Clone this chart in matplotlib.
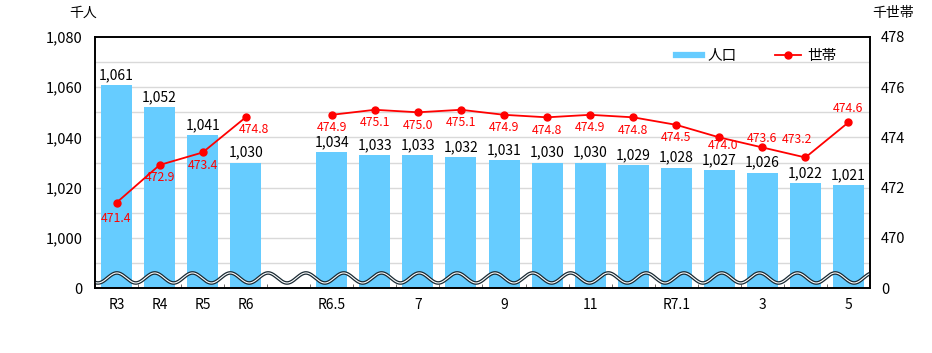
import numpy as np
import matplotlib
matplotlib.use("Agg")
import matplotlib.pyplot as plt
from matplotlib.lines import Line2D

plt.rcParams['font.family'] = ['Noto Sans CJK JP', 'DejaVu Sans']

# ---- data ----
categories = ["R3", "R4", "R5", "R6",
              "R6.5", "6", "7", "8", "9", "10", "11", "12", "R7.1", "2", "3", "4", "5"]
tick_labels = ["R3", "R4", "R5", "R6",
               "R6.5", "", "7", "", "9", "", "11", "", "R7.1", "", "3", "", "5"]
population = [1061, 1052, 1041, 1030,
              1034, 1033, 1033, 1032, 1031, 1030, 1030, 1029, 1028, 1027, 1026, 1022, 1021]
households = [471.4, 472.9, 473.4, 474.8,
              474.9, 475.1, 475.0, 475.1, 474.9, 474.8, 474.9, 474.8, 474.5, 474.0, 473.6, 473.2, 474.6]
left_ticks = [980, 1000, 1020, 1040, 1060, 1080]
left_tick_labels = ["0", "1,000", "1,020", "1,040", "1,060", "1,080"]
right_ticks = [468, 470, 472, 474, 476, 478]
right_tick_labels = ["0", "470", "472", "474", "476", "478"]

# ---- layout ----
n_annual = 4
x = np.array([i if i < n_annual else i + 1 for i in range(len(categories))], dtype=float)

BAR = "#66CCFF"
RED = "#FF0000"

fig = plt.figure(figsize=(9.32, 3.53), dpi=100)
ax = fig.add_axes([95/932, 1-288/353, 775/932, 251/353])
ax2 = ax.twinx()

ax.set_xlim(-0.5, 17.5)
ax.set_ylim(980, 1080)
ax2.set_ylim(468, 478)

# grid
for g in range(990, 1080, 10):
    ax.axhline(g, color="#d9d9d9", lw=1.0, zorder=0)

ax.bar(x, population, width=0.72, color=BAR, zorder=2)
for xi, v in zip(x, population):
    ax.annotate(f"{v:,}", (xi, v), xytext=(0, 2), textcoords="offset points",
                ha="center", va="bottom", fontsize=10, color="black", zorder=5)

# wave (axis break decoration)
xw = np.linspace(-0.5, 17.5, 2000)
period = 37.8 / 43.05
x0 = (98 - 95) / 43.05 - 0.5
yw = 984 - 2.0 * np.cos(2 * np.pi * (xw - x0) / period)
ax.plot(xw, yw, color="#1a2a33", lw=2.6, zorder=3, solid_capstyle="butt")
ax.plot(xw, yw, color="white", lw=0.8, zorder=4, solid_capstyle="butt")

# households line (broken between annual and monthly)
ax2.plot(x[:n_annual], households[:n_annual], color=RED, lw=1.3, marker="o", ms=5, zorder=6)
ax2.plot(x[n_annual:], households[n_annual:], color=RED, lw=1.3, marker="o", ms=5, zorder=6)

offsets = {i: ((0, -4.5), "center", "top") for i in range(len(households))}
offsets[0] = ((0, -6.5), "center", "top")
offsets[3] = ((6, -4), "center", "top")
offsets[13] = ((3, -1.5), "center", "top")
offsets[14] = ((0, 2), "center", "bottom")
offsets[15] = ((-6, 8), "center", "bottom")
offsets[16] = ((0, 5), "center", "bottom")
for i, (xi, v) in enumerate(zip(x, households)):
    off, ha, va = offsets[i]
    ax2.annotate(f"{v:.1f}", (xi, v), xytext=off, textcoords="offset points",
                 ha=ha, va=va, fontsize=8.8, color=RED, zorder=7)

# axes styling
ax.set_yticks(left_ticks)
ax.set_yticklabels(left_tick_labels, fontsize=10.5)
ax.tick_params(axis="y", length=0, pad=9)
ax2.set_yticks(right_ticks)
ax2.set_yticklabels(right_tick_labels, fontsize=10.5)
ax2.tick_params(axis="y", length=0, pad=8)

ax.set_xticks(x)
ax.set_xticklabels(tick_labels, fontsize=10)
ax.tick_params(axis="x", length=0, pad=7)
ax.set_xticks(np.arange(0.5, 17.5, 1.0), minor=True)
ax.tick_params(axis="x", which="minor", direction="in", length=3, color="#555555")

for a in (ax, ax2):
    for s in a.spines.values():
        s.set_color("black")
        s.set_linewidth(1.2)
ax2.patch.set_visible(False)

fig.text(83/932, 1-13/353, "千人", ha="center", va="center", fontsize=10)
fig.text(893/932, 1-13/353, "千世帯", ha="center", va="center", fontsize=10)

handles = [Line2D([], [], color=BAR, lw=4.5),
           Line2D([], [], color=RED, lw=1.3, marker="o", ms=5)]
ax2.legend(handles, ["人口", "世帯"], ncol=2, frameon=False, loc="center",
           bbox_to_anchor=(0.853, 0.924), fontsize=10.5, handlelength=1.8,
           columnspacing=2.6, handletextpad=0.4)

fig.savefig("out.png", dpi=100)
